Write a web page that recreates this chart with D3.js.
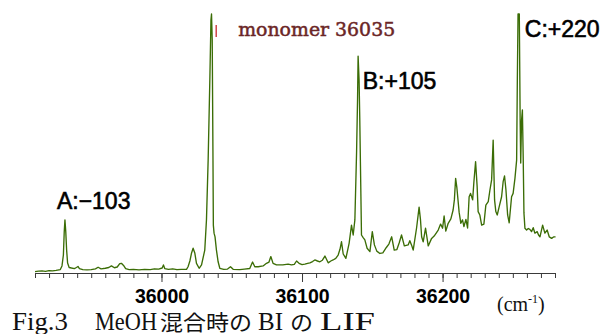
<!DOCTYPE html>
<html>
<head>
<meta charset="utf-8">
<script src="https://cdn.jsdelivr.net/npm/d3@7"></script>
<style>
  html, body { margin: 0; padding: 0; background: #fff; }
  svg { display: block; }
</style>
</head>
<body>
<svg id="chart" width="602" height="334"></svg>
<script>
// LIF excitation spectrum of BI with MeOH (wavenumber in cm-1, intensity in arbitrary units)
const wavenumber = [
  35910, 35912.5, 35915, 35917.5, 35920, 35922.5, 35925, 35928, 35929.2, 35930.2,
  35930.8, 35931.3, 35931.9, 35932.5, 35933.2, 35934.3, 35936, 35938, 35939.5, 35940.6,
  35941.6, 35944, 35947, 35950, 35953, 35954.9, 35957, 35960, 35962.5, 35964.4,
  35966.5, 35968.5, 35970.3, 35971.5, 35973, 35974.5, 35977, 35980, 35984, 35988,
  35992, 35995, 35998, 36000.5, 36001.4, 36002.3, 36005, 36008, 36011, 36014,
  36017.8, 36018.9, 36020.2, 36021.4, 36022.5, 36023.7, 36024.9, 36026.8, 36028.5, 36030.8,
  36032.0, 36033.2, 36034.4, 36035.2, 36035.6, 36036.1, 36036.6, 36036.9, 36037.4, 36038.1,
  36039.1, 36040.3, 36041.5, 36044.3, 36047, 36049.1, 36051, 36055.7, 36059, 36062.8,
  36064.8, 36066.4, 36068.8, 36072.3, 36074.7, 36076.5, 36077.8, 36079.4, 36081.8, 36086.3,
  36090.1, 36092.5, 36094.5, 36096.1, 36097.9, 36100, 36102, 36104, 36105.6, 36107.5,
  36109.1, 36111, 36112.7, 36114.5, 36116.3, 36118.6, 36120.5, 36122.1, 36124, 36125.7,
  36127, 36128.1, 36129.3, 36131.2, 36133.5, 36135.2, 36136.4, 36137.6, 36138.8, 36139.5,
  36139.9, 36140.6, 36141.1, 36141.8, 36142.3, 36143.5, 36144.7, 36146.3, 36148.3, 36150.0,
  36151.5, 36153.2, 36155.4, 36157.5, 36160.0, 36161.8, 36163.8, 36165.6, 36167.5, 36169.1,
  36170.8, 36172.8, 36175.5, 36176.7, 36177.9, 36179.1, 36181.5, 36183.3, 36184.3, 36185.1,
  36186.2, 36187.9, 36189.8, 36192.2, 36194.0, 36195.7, 36196.9, 36198.6, 36200.0, 36201.1,
  36202.3, 36204.0, 36205.9, 36207.5, 36208.4, 36209.3, 36210.2, 36211.8, 36213.0, 36214.2,
  36215.2, 36216.6, 36217.8, 36218.9, 36219.9, 36221.4, 36222.3, 36223.5, 36224.6, 36225.3,
  36226.5, 36227.8, 36229.4, 36230.8, 36232.5, 36233.7, 36234.9, 36236.0, 36237.0, 36237.9,
  36238.9, 36240.3, 36242.0, 36243.1, 36244.1, 36245.1, 36246.3, 36247.4, 36249.1, 36250.2,
  36251.5, 36252.7, 36253.2, 36253.7, 36254.6, 36255.2, 36255.6, 36256.2, 36256.8, 36257.4,
  36257.9, 36258.6, 36259.8, 36261, 36262.1, 36263.3, 36264.5, 36265.7, 36267.3, 36268.3,
  36269.3, 36271.2, 36272.8, 36274.4, 36275.9, 36277.6, 36279.2, 36280.4
];
const intensity = [
  0.9, 1.1, 1.2, 1.0, 1.3, 1.2, 1.4, 1.7, 3.1, 7.3,
  16.2, 20.8, 16.2, 9.2, 4.2, 2.5, 2.3, 2.1, 2.5, 2.9,
  2.1, 1.7, 1.6, 1.7, 2.0, 2.6, 2.0, 2.2, 2.5, 3.1,
  2.4, 2.7, 4.0, 4.1, 3.3, 2.1, 1.7, 1.8, 1.6, 1.8,
  1.7, 2.0, 1.9, 2.3, 3.5, 2.1, 1.8, 2.0, 1.7, 1.8,
  1.8, 2.8, 5.0, 8.1, 9.9, 8.1, 4.1, 2.2, 3.5, 9.2,
  20.8, 43.8, 74.6, 97.7, 100, 90, 47.7, 18.8, 15.7, 14.3,
  9.2, 4.7, 2.2, 1.8, 1.9, 2.8, 1.8, 1.7, 1.9, 2.1,
  4.6, 2.8, 2.8, 3.1, 4.1, 4.6, 6.7, 4.1, 3.5, 3.5,
  3.8, 3.5, 3.7, 5.0, 4.1, 3.6, 3.8, 4.1, 4.3, 4.8,
  5.4, 5.0, 4.7, 5.3, 6.9, 4.3, 5.0, 5.4, 6.0, 7.3,
  9.5, 12.4, 7.7, 6.0, 11.8, 18.8, 15.0, 20.8, 46.5, 66.9,
  83.8, 74.6, 59.2, 33.6, 15.0, 14.0, 13.1, 9.9, 8.6, 16.3,
  11.2, 8.8, 7.9, 8.1, 10.2, 11.5, 14.3, 9.2, 9.4, 11.9,
  15.0, 10.8, 11.2, 12.8, 11.2, 9.2, 17.7, 25.7, 20.8, 14.3,
  12.4, 17.6, 10.8, 13.7, 14.6, 15.9, 16.9, 19.2, 17.6, 22.3,
  16.5, 19.5, 21.2, 24.6, 28.5, 36.8, 33.1, 23.7, 19.5, 20.8,
  18.2, 21.0, 17.7, 29.7, 31.0, 28.5, 35.5, 43.2, 33.6, 24.0,
  22.7, 18.8, 19.2, 26.5, 27.8, 32.3, 36.2, 51.5, 28.5, 24.0,
  22.7, 25.9, 29.7, 35.5, 37.7, 32.3, 22.7, 19.7, 29.7, 31.0,
  36.8, 43.8, 74.6, 100, 100, 59.2, 42.7, 59.2, 63.1, 43.8,
  23.5, 17.6, 16.9, 17.5, 17.2, 16.3, 17.8, 15.7, 16.3, 15.0,
  14.3, 18.8, 15.7, 16.9, 14.3, 13.7, 14.3, 14.3
];

const axisStart = 35910;
const axisEnd = 36280;
const minorTickStep = 10;
const majorTicks = [36000, 36100, 36200];

const monomerOrigin = 36035;
const peakNames = ["A", "B", "C"];
const peakShifts = [-103, 105, 220];

const unitLabel = "(cm";
const unitExponent = "-1";
const captionWords = ["Fig.3", "MeOH", "混合時の", "BI", "の", "LIF"];

const svg = d3.select("#chart");

const x = d3.scaleLinear().domain([axisStart, axisEnd]).range([35, 555]);
const y = d3.scaleLinear().domain([0, 100]).range([274, 14]);

const points = wavenumber.map((w, i) => [w, intensity[i]]);

// spectrum trace
svg.append("path")
  .datum(points)
  .attr("fill", "none")
  .attr("stroke", "#3b6d06")
  .attr("stroke-width", 1.35)
  .attr("stroke-linejoin", "round")
  .attr("d", d3.line().x(d => x(d[0])).y(d => y(d[1])));

// bottom axis: minor ticks every 10 cm-1, labelled majors every 100 cm-1
const axisG = svg.append("g").attr("transform", "translate(0,273)");
axisG.call(
  d3.axisBottom(x)
    .tickValues(d3.range(axisStart, axisEnd + 1, minorTickStep))
    .tickSize(5).tickSizeOuter(0).tickFormat("")
);
const majorG = svg.append("g").attr("transform", "translate(0,273)");
majorG.call(
  d3.axisBottom(x).tickValues(majorTicks).tickSize(9).tickSizeOuter(0).tickFormat(d3.format("d"))
);
majorG.select(".domain").remove();
svg.selectAll(".tick line, .domain").attr("stroke", "#3a3a3a");
majorG.selectAll("text")
  .attr("y", 30).attr("dy", null)
  .attr("fill", "#000")
  .style("font-family", "'Liberation Sans', Arial, sans-serif")
  .style("font-weight", "bold")
  .style("font-size", "19.5px");

// unit label
const unit = svg.append("text")
  .attr("x", 497).attr("y", 311)
  .style("font-family", "'Liberation Serif', 'Times New Roman', serif")
  .style("font-size", "20px")
  .attr("fill", "#111");
unit.append("tspan").text(unitLabel);
unit.append("tspan").attr("dy", -8).style("font-size", "12px").text(unitExponent);
unit.append("tspan").attr("dy", 8).text(")");

// peak intensity near a wavenumber
function peakTop(w) {
  let best = 0;
  points.forEach(p => { if (Math.abs(p[0] - w) <= 2) best = Math.max(best, p[1]); });
  return best;
}

// monomer origin label with small red marker
const mx = x(monomerOrigin);
const my = y(peakTop(monomerOrigin));
svg.append("line")
  .attr("x1", mx + 5.5).attr("x2", mx + 5.5)
  .attr("y1", my + 11).attr("y2", my + 23)
  .attr("stroke", "#c4161c").attr("stroke-width", 1.2);
svg.append("text")
  .attr("x", mx + 27.5).attr("y", my + 22)
  .attr("fill", "#6b2626")
  .attr("stroke", "#6b2626").attr("stroke-width", 0.5)
  .attr("textLength", 157).attr("lengthAdjust", "spacingAndGlyphs")
  .style("font-family", "'DejaVu Serif', serif")
  .style("font-size", "19px")
  .text(`monomer ${monomerOrigin}`);

// band labels relative to the monomer origin
const labelOffsets = [[-9, -10.5], [4.5, 33.2], [5, 23.3]];
peakShifts.forEach((s, i) => {
  const w = monomerOrigin + s;
  const sign = s < 0 ? "\u2212" : "+";
  svg.append("text")
    .attr("x", x(w) + labelOffsets[i][0])
    .attr("y", y(peakTop(w)) + labelOffsets[i][1])
    .attr("fill", "#000")
    .attr("stroke", "#000").attr("stroke-width", 0.6)
    .style("font-family", "'Liberation Sans', Arial, sans-serif")
    .style("font-size", "23px")
    .text(`${peakNames[i]}:${sign}${Math.abs(s)}`);
});

// figure caption
const captionX = [12, 95, 160, 258, 290, 320];
const captionLen = [56, 62, 92, 25, 23, 55];
captionWords.forEach((wd, i) => {
  const cjk = /[\u3040-\u9fff]/.test(wd);
  svg.append("text")
    .attr("x", captionX[i]).attr("y", 329.5)
    .attr("textLength", captionLen[i])
    .attr("lengthAdjust", "spacingAndGlyphs")
    .attr("fill", "#111")
    .style("font-family", cjk ? "'Noto Sans CJK JP', sans-serif" : "'Liberation Serif', 'Times New Roman', serif")
    .style("font-size", cjk ? "21px" : "25px")
    .text(wd);
});
</script>
</body>
</html>
